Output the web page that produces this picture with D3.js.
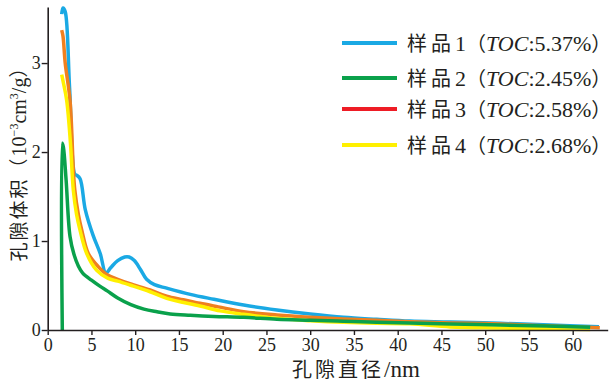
<!DOCTYPE html>
<html><head><meta charset="utf-8">
<script src="https://cdn.jsdelivr.net/npm/d3@7"></script>
<style>
html,body{margin:0;padding:0;background:#fff;}
svg{display:block;}
.cjk{font-family:"Noto Sans CJK SC","Noto Sans CJK JP",sans-serif;}
.ser{font-family:"Liberation Serif","DejaVu Serif",serif;}
</style></head>
<body>
<script>
// ---- data ----
const xTicks = [0,5,10,15,20,25,30,35,40,45,50,55,60];
const yTicks = [0,1,2,3];
const seriesNames = ["样品1","样品2","样品3","样品4"];
const tocValues = ["5.37%","2.45%","2.58%","2.68%"];

const s1x = [1.6,1.75,2.0,2.5,3.1,3.3,3.7,4.3,5.2,6.0,6.65,7.2,8.0,8.8,9.3,9.9,10.6,11.3,12.2,13.6,16.3,19.0,22.4,26.2,30,33.8,37.6,41.4,46,51.7,57.4,63.0];
const s1y = [3.55,3.62,3.58,2.72,1.75,1.74,1.70,1.35,1.06,0.86,0.64,0.70,0.78,0.82,0.82,0.78,0.68,0.57,0.51,0.47,0.40,0.345,0.28,0.225,0.18,0.143,0.12,0.10,0.09,0.075,0.056,0.037];

const s2x = [1.67,1.67,1.8,2.1,2.55,3.0,3.5,4.0,5.0,6.0,6.8,8.0,9.5,11.0,12.5,14.0,16.3,19.0,22.4,26.2,30,33.8,37.6,41.4,46,51.7,57,62];
const s2y = [0,2.1,2.05,1.69,1.05,0.85,0.72,0.64,0.56,0.49,0.44,0.36,0.285,0.235,0.205,0.18,0.165,0.152,0.142,0.12,0.109,0.098,0.086,0.079,0.068,0.056,0.045,0.03];

const s3x = [1.6,1.75,2.0,2.55,2.93,3.1,3.5,3.9,4.64,5.8,6.8,8.0,9.4,11.7,13.6,15.5,17.4,19.5,22.4,26.2,30,33.8,37.6,41.4,46,51.7,57.4,63.1];
const s3y = [3.37,3.3,3.0,2.58,1.8,1.57,1.3,1.12,0.86,0.71,0.62,0.57,0.52,0.45,0.38,0.34,0.30,0.26,0.206,0.169,0.143,0.124,0.109,0.093,0.08,0.067,0.045,0.026];

const s4x = [1.6,1.75,2.17,2.6,2.93,3.3,3.7,4.46,5.6,6.9,8.0,9.4,11.7,13.6,17.4,19.7,22.4,26.2,30,33.8,37.6,41.4,46,51.7,58,62];
const s4y = [2.87,2.8,2.58,2.1,1.57,1.3,1.12,0.86,0.67,0.58,0.55,0.506,0.43,0.356,0.27,0.215,0.176,0.131,0.105,0.086,0.075,0.07,0.035,0.022,0.012,0.006];

const lineColors = ["#1aa9e4","#0aa14b","#f0801f","#fff000"];
const legendColors = ["#1aa9e4","#0aa14b","#ee1c25","#fff000"];

// ---- chart ----
const W = 612, H = 385;
const svg = d3.select("body").append("svg").attr("width",W).attr("height",H);
const x = d3.scaleLinear().domain([0,64]).range([47.7,607.7]);
const y = d3.scaleLinear().domain([0,3.63]).range([330,7]);

const series = [
  {xs:s1x, ys:s1y, c:lineColors[0]},
  {xs:s3x, ys:s3y, c:lineColors[2]},
  {xs:s4x, ys:s4y, c:lineColors[3]},
  {xs:s2x, ys:s2y, c:lineColors[1]}
];
const line = d3.line().x(d=>x(d[0])).y(d=>y(d[1])).curve(d3.curveCatmullRom.alpha(0.5));
series.forEach(s=>{
  const pts = s.xs.map((v,i)=>[v,s.ys[i]]);
  svg.append("path").attr("d",line(pts)).attr("fill","none")
     .attr("stroke",s.c).attr("stroke-width",3.5).attr("stroke-linejoin","round");
});

// axes
const gx = svg.append("g").attr("transform","translate(0,330)")
  .call(d3.axisBottom(x).tickValues(xTicks).tickFormat(d3.format("d")).tickSize(5).tickPadding(3).tickSizeOuter(0));
gx.select(".domain").attr("stroke","#231f20").attr("stroke-width",1.6);
gx.selectAll(".tick line").attr("stroke","#231f20").attr("stroke-width",1.4);
gx.selectAll("text").attr("class","ser").attr("font-size",18).attr("fill","#231f20");

const gy = svg.append("g").attr("transform","translate(47.7,0)")
  .call(d3.axisLeft(y).tickValues(yTicks).tickFormat(d3.format("d")).tickSize(6).tickPadding(1).tickSizeOuter(0));
gy.select(".domain").attr("stroke","#231f20").attr("stroke-width",1.6);
gy.selectAll(".tick line").attr("stroke","#231f20").attr("stroke-width",1.4);
gy.selectAll("text").attr("class","ser").attr("font-size",18).attr("fill","#231f20");

// axis titles
const xt = svg.append("text").attr("x",356).attr("y",377).attr("text-anchor","middle").attr("fill","#231f20");
xt.append("tspan").attr("class","cjk").attr("font-size",20).attr("letter-spacing",3).text("孔隙直径");
xt.append("tspan").attr("class","ser").attr("font-size",23).text("/nm");

const yt = svg.append("text").attr("transform","translate(26,160) rotate(-90)").attr("text-anchor","middle").attr("fill","#231f20");
yt.append("tspan").attr("class","cjk").attr("font-size",19).attr("letter-spacing",2).text("孔隙体积（");
yt.append("tspan").attr("class","ser").attr("font-size",20).text("10");
yt.append("tspan").attr("class","ser").attr("font-size",12).attr("dy",-8).text("−3");
yt.append("tspan").attr("class","ser").attr("font-size",20).attr("dy",8).text("cm");
yt.append("tspan").attr("class","ser").attr("font-size",12).attr("dy",-8).text("3");
yt.append("tspan").attr("class","ser").attr("font-size",20).attr("dy",8).text("/g");
yt.append("tspan").attr("class","cjk").attr("font-size",19).text("）");

// legend
const legY = [43,78,109,145];
const legOrder = [0,1,2,3];
legOrder.forEach((k,i)=>{
  svg.append("line").attr("x1",342).attr("x2",397).attr("y1",legY[i]).attr("y2",legY[i])
    .attr("stroke",legendColors[k]).attr("stroke-width",4);
  const t = svg.append("text").attr("x",407).attr("y",legY[i]+8).attr("fill","#231f20");
  t.append("tspan").attr("class","cjk").attr("font-size",20).attr("letter-spacing",4).text(seriesNames[k].slice(0,2));
  t.append("tspan").attr("class","ser").attr("font-size",22).text(seriesNames[k].slice(2));
  t.append("tspan").attr("class","cjk").attr("font-size",20).text("（");
  t.append("tspan").attr("class","ser").attr("font-size",22).attr("font-style","italic").text("TOC");
  t.append("tspan").attr("class","ser").attr("font-size",22).text(":"+tocValues[k]);
  t.append("tspan").attr("class","cjk").attr("font-size",20).text("）");
});
</script>
</body></html>
